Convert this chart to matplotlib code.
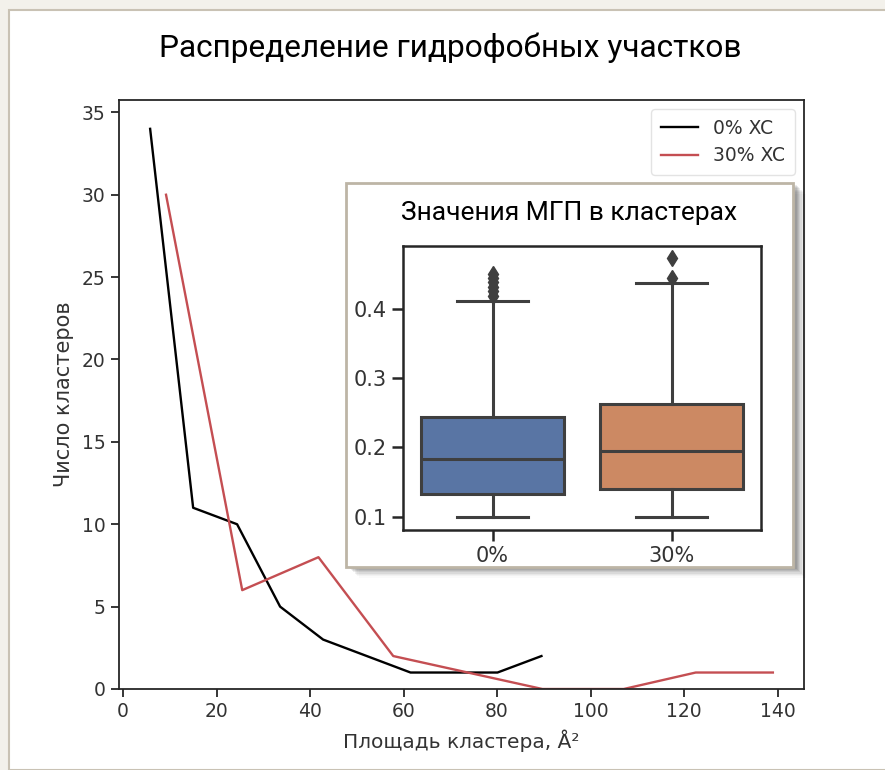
import matplotlib
matplotlib.use("Agg")
import matplotlib.pyplot as plt
from matplotlib.patches import Rectangle

plt.rcParams["font.family"] = ["DejaVu Sans"]

# ── data ──────────────────────────────────────────────────────────────────────
area_0 = [5.8, 15.0, 24.4, 33.6, 42.8, 61.5, 80.1, 89.5]
count_0 = [34, 11, 10, 5, 3, 1, 1, 2]
area_30 = [9.2, 25.5, 41.8, 57.8, 89.7, 107.1, 122.5, 139.0]
count_30 = [30, 6, 8, 2, 0, 0, 1, 1]

groups = ["0%", "30%"]
q1 = [0.133, 0.140]
med = [0.183, 0.195]
q3 = [0.244, 0.263]
wlo = [0.100, 0.100]
whi = [0.411, 0.437]
fliers = [[0.419, 0.425, 0.432, 0.438, 0.444, 0.450],
          [0.445, 0.473]]

box_colours = ["#5975a4", "#cc8963"]
line_grey = "#3f3f3f"
ink = "#262626"

W, H = 885, 770
fig = plt.figure(figsize=(W / 100, H / 100), dpi=100)
fig.patch.set_facecolor("#f3f1eb")


def fx(px):
    return px / W


def fy(py):
    return 1 - py / H


# page panel
fig.patches.append(Rectangle((fx(8.5), 0), 1, fy(9.5), transform=fig.transFigure,
                             facecolor="white", edgecolor="#c9c2b4", lw=1.5, zorder=-5))

fig.text(fx(450), fy(48), "Распределение гидрофобных участков", family="Roboto",
         fontsize=22.8, color="black", ha="center", va="center")

# ── main axes ─────────────────────────────────────────────────────────────────
ax = fig.add_axes([fx(119), fy(689), fx(804) - fx(119), fy(100) - fy(689)], zorder=1)
ax.plot(area_0, count_0, color="black", lw=1.7, label="0% XC")
ax.plot(area_30, count_30, color="#c44e52", lw=1.7, label="30% XC")
ax.set_ylim(0, 35.75)
ax.set_xticks([0, 20, 40, 60, 80, 100, 120, 140])
ax.set_yticks([0, 5, 10, 15, 20, 25, 30, 35])
for s in ax.spines.values():
    s.set_color(ink)
    s.set_linewidth(1.3)
ax.tick_params(colors=ink, labelcolor="#333333", labelsize=13.5, length=6, width=1.3)
ax.set_xlabel("Площадь кластера, Å²", fontsize=14.5, color="#333333", labelpad=6)
ax.set_ylabel("Число кластеров", fontsize=15, color="#333333", labelpad=6)
leg = ax.legend(loc="upper right", fontsize=13.5, frameon=True, handlelength=2.0,
                borderpad=0.5, labelspacing=0.45)
leg.get_frame().set_edgecolor("#dddddd")
for t in leg.get_texts():
    t.set_color("#333333")

# ── inset card with shadow ────────────────────────────────────────────────────
L, T, R, B = 346, 183, 793, 567
for i, a in enumerate([0.08, 0.08, 0.08, 0.07, 0.06, 0.04, 0.03, 0.02]):
    off = 1.5 + i * 1.3
    fig.patches.append(Rectangle((fx(L + off + 2), fy(B + off)), fx(R - L), fy(T) - fy(B),
                                 transform=fig.transFigure, facecolor="black",
                                 edgecolor="none", alpha=a, zorder=5))
fig.patches.append(Rectangle((fx(L), fy(B)), fx(R - L), fy(T) - fy(B),
                             transform=fig.transFigure, facecolor="white",
                             edgecolor="#bdb5a6", lw=2, zorder=6))
fig.text(fx(569), fy(213), "Значения МГП в кластерах", family="Roboto",
         fontsize=19, color="black", ha="center", va="center", zorder=7)

ia = fig.add_axes([fx(403), fy(530), fx(761) - fx(403), fy(246) - fy(530)], zorder=8)
stats = []
for i in range(len(groups)):
    stats.append({"label": groups[i], "q1": q1[i], "med": med[i], "q3": q3[i],
                  "whislo": wlo[i], "whishi": whi[i], "fliers": fliers[i]})
bp = ia.bxp(stats, positions=[0, 1], widths=0.8, patch_artist=True,
            boxprops=dict(edgecolor=line_grey, lw=2.2),
            medianprops=dict(color=line_grey, lw=2.2),
            whiskerprops=dict(color=line_grey, lw=2.2),
            capprops=dict(color=line_grey, lw=2.2),
            flierprops=dict(marker="d", markerfacecolor=line_grey,
                            markeredgecolor=line_grey, markersize=8))
for patch, c in zip(bp["boxes"], box_colours):
    patch.set_facecolor(c)
ia.set_xlim(-0.5, 1.5)
ia.set_ylim(0.081, 0.4906)
ia.set_yticks([0.1, 0.2, 0.3, 0.4])
ia.set_yticklabels(["0.1", "0.2", "0.3", "0.4"])
for s in ia.spines.values():
    s.set_color(ink)
    s.set_linewidth(1.8)
ia.tick_params(colors=ink, labelcolor="#333333", labelsize=15, length=8, width=1.8)

fig.savefig("out.png", dpi=100, facecolor=fig.get_facecolor())
